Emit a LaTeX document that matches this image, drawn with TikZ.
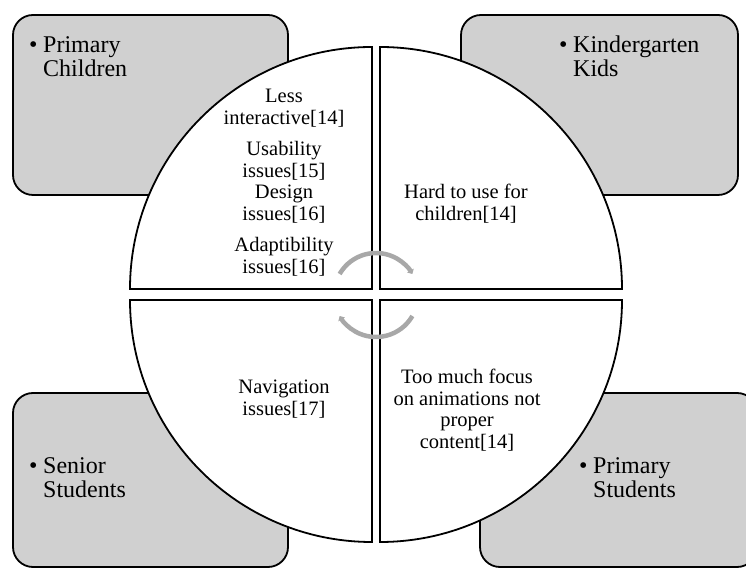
\documentclass[tikz,border=0pt]{standalone}
\usepackage{fontspec}
\setmainfont{Liberation Serif}
\usetikzlibrary{arrows.meta}
\definecolor{boxgray}{RGB}{208,208,208}
\definecolor{arrowgray}{RGB}{168,168,168}
\tikzset{
  groupbox/.style={draw=black, line width=1.8pt, fill=boxgray, rounded corners=20pt},
  quadrant/.style={draw=black, line width=1.8pt, fill=white},
  cycarrow/.style={draw=arrowgray, line width=4.5pt, -{Triangle[length=4pt,width=7.5pt]}},
  qtext/.style={anchor=base, inner sep=0pt, font=\fontsize{20.5}{21.5}\selectfont},
  btext/.style={anchor=base west, inner sep=0pt, font=\fontsize{24}{23}\selectfont}
}
\newcommand{\qlines}[1]{\begin{tabular}[t]{@{}c@{}}#1\end{tabular}}
\newcommand{\blines}[2]{\begin{tabular}[t]{@{}l@{}}\makebox[14pt][l]{\textbullet}#1\\\hspace*{14pt}#2\end{tabular}}
\begin{document}
\begin{tikzpicture}[x=1pt,y=1pt]
\useasboundingbox (0,0) rectangle (746,569);
% outer boxes
\path[groupbox] (13,374) rectangle (288,554);
\path[groupbox] (461,374) rectangle (738,554);
\path[groupbox] (13,2) rectangle (288,176);
\path[groupbox] (480,2) rectangle (757,176);
% quadrants
\coordinate (ctl) at (372,280);
\coordinate (ctr) at (380,280);
\coordinate (cbl) at (372,269);
\coordinate (cbr) at (380,269);
\path[quadrant] (ctl) -- ++(0,242) arc (90:180:242) -- cycle;
\path[quadrant] (ctr) -- ++(0,242) arc (90:0:242) -- cycle;
\path[quadrant] (cbl) -- ++(-242,0) arc (180:270:242) -- cycle;
\path[quadrant] (cbr) -- ++(242,0) arc (0:-90:242) -- cycle;
% circular arrows
\coordinate (cc) at (376,274);
\draw[cycarrow] ([shift={(150:42)}]cc) arc (150:30:42);
\draw[cycarrow] ([shift={(330:42)}]cc) arc (330:210:42);
% quadrant texts
\node[qtext] (tl1) at (284,466.3) {\qlines{Less\\interactive[14]}};
\node[qtext] (tl2) at (284,413) {\qlines{Usability\\issues[15]\\Design\\issues[16]}};
\node[qtext] (tl3) at (284,317) {\qlines{Adaptibility\\issues[16]}};
\node[qtext] (tr1) at (466,370) {\qlines{Hard to use for\\children[14]}};
\node[qtext] (bl1) at (284,175) {\qlines{Navigation\\issues[17]}};
\node[qtext] (br1) at (467,185) {\qlines{Too much focus\\on animations not\\proper\\content[14]}};
% box texts
\node[btext] (b1) at (29,516) {\blines{Primary}{Children}};
\node[btext] (b2) at (559,516) {\blines{Kindergarten}{Kids}};
\node[btext] (b3) at (29,95) {\blines{Senior}{Students}};
\node[btext] (b4) at (579,95) {\blines{Primary}{Students}};
\end{tikzpicture}
\end{document}
